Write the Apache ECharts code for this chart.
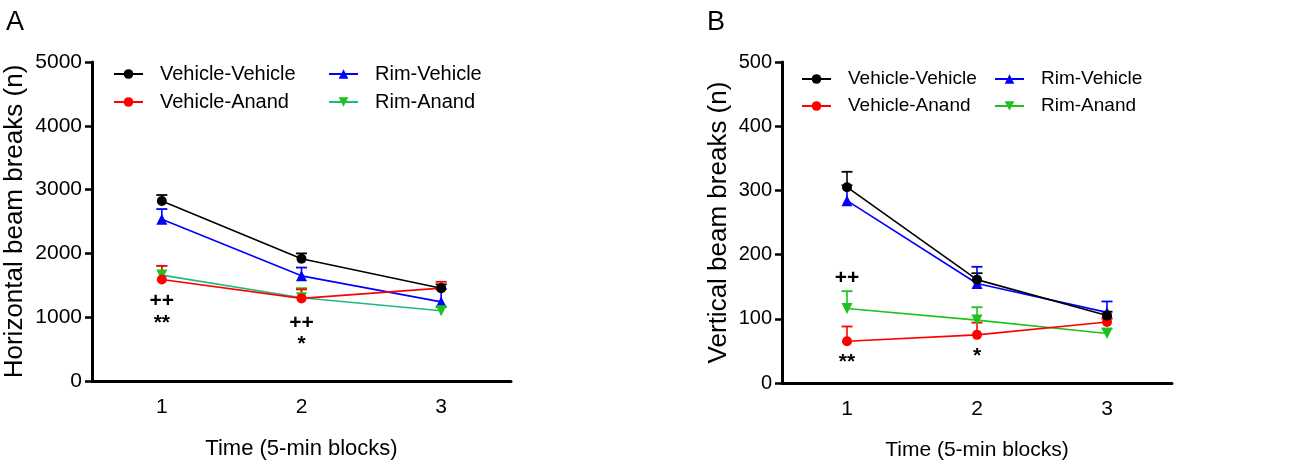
<!DOCTYPE html>
<html>
<head>
<meta charset="utf-8" />
<title>Beam breaks</title>
<script src="https://cdn.jsdelivr.net/npm/echarts@6/dist/echarts.min.js"></script>
<style>
  * { margin: 0; padding: 0; }
  body { background: #fff; width: 1295px; height: 465px; position: relative; overflow: hidden; }
  #chartA { position: absolute; left: 0; top: 0; width: 648px; height: 465px; }
  #chartB { position: absolute; left: 648px; top: 0; width: 647px; height: 465px; }
</style>
</head>
<body>
<div id="chartA"></div>
<div id="chartB"></div>
<script>
// time blocks
var blocks = ['1', '2', '3'];
var seriesNames = ['Vehicle-Vehicle', 'Vehicle-Anand', 'Rim-Vehicle', 'Rim-Anand'];

// panel A - horizontal beam breaks (mean, SEM)
var hVehVeh = [2820, 1915, 1455];
var hVehVehErr = [95, 85, 60];
var hVehAnand = [1590, 1295, 1455];
var hVehAnandErr = [215, 140, 100];
var hRimVeh = [2535, 1648, 1240];
var hRimVehErr = [160, 130, 200];
var hRimAnand = [1660, 1305, 1100];
var hRimAnandErr = [145, 150, 60];
var hTicks = [0, 1000, 2000, 3000, 4000, 5000];

// panel B - vertical beam breaks (mean, SEM)
var vVehVeh = [305, 161, 105];
var vVehVehErr = [24, 10, 6];
var vVehAnand = [65, 75, 95];
var vVehAnandErr = [23, 19, 5];
var vRimVeh = [284, 155, 110];
var vRimVehErr = [24, 26, 17];
var vRimAnand = [116, 98, 77];
var vRimAnandErr = [27, 20, 8];
var vTicks = [0, 100, 200, 300, 400, 500];

// significance marks: [block index, value, text]
var hMarks = [[0, 1254, '++'], [0, 905, '**'], [1, 905, '++'], [1, 580, '*']];
var vMarks = [[0, 164, '++'], [0, 32, '**'], [1, 41, '*']];

var FONT = '"Liberation Sans", Arial, sans-serif';

function lineSeries(name, vals, color, symbol, rotate, lineColor) {
	return {
		name: name,
		type: 'line',
		data: vals,
		symbol: symbol,
		symbolSize: symbol == 'circle' ? 10 : 11,
		symbolRotate: rotate,
		lineStyle: { color: lineColor || color, width: 1.6 },
		itemStyle: { color: color },
		z: 3
	};
}

function errSeries(vals, errs, color) {
	return {
		type: 'custom',
		data: vals.map(function(v, i) { return [i, v, v + errs[i]]; }),
		renderItem: function(params, api) {
			var p0 = api.coord([api.value(0), api.value(1)]);
			var p1 = api.coord([api.value(0), api.value(2)]);
			var hw = 5.5;
			return {
				type: 'group',
				children: [
					{ type: 'line', shape: { x1: p0[0], y1: p0[1], x2: p1[0], y2: p1[1] }, style: { stroke: color, lineWidth: 1.6 } },
					{ type: 'line', shape: { x1: p1[0] - hw, y1: p1[1], x2: p1[0] + hw, y2: p1[1] }, style: { stroke: color, lineWidth: 1.8 } }
				]
			};
		},
		z: 2,
		silent: true
	};
}

// significance text drawn at data coordinates
function markSeries(marks) {
	return {
		type: 'custom',
		silent: true,
		data: marks.map(function(m) { return [m[0], m[1]]; }),
		renderItem: function(params, api) {
			var p = api.coord([api.value(0), api.value(1)]);
			return {
				type: 'text',
				x: p[0],
				y: p[1],
				style: {
					text: marks[params.dataIndex][2],
					fill: '#000',
					font: 'bold 21px ' + FONT,
					align: 'center',
					verticalAlign: 'middle'
				}
			};
		},
		z: 5
	};
}

function legendCol(names, left, top, fontSize, gap) {
	return {
		data: names,
		orient: 'vertical',
		left: left,
		top: top,
		padding: 0,
		itemWidth: 29,
		itemHeight: 12,
		itemGap: gap,
		selectedMode: false,
		textStyle: { fontSize: fontSize, fontFamily: FONT, color: '#000', lineHeight: 24, padding: [0, 0, 0, 12] }
	};
}

function buildOption(cfg) {
	return {
		animation: false,
		textStyle: { fontFamily: FONT },
		graphic: [{
			type: 'text', left: cfg.letterLeft, top: 9,
			style: { text: cfg.letter, fontSize: 27, fontFamily: FONT, fill: '#000' }
		}],
		legend: [
			legendCol([seriesNames[0], seriesNames[1]], cfg.leg1, cfg.legTop, cfg.legFont, cfg.legGap),
			legendCol([seriesNames[2], seriesNames[3]], cfg.leg2, cfg.legTop, cfg.legFont, cfg.legGap)
		],
		grid: {
			left: cfg.gridLeft, top: 62, width: cfg.gridWidth, height: cfg.gridHeight,
			containLabel: false, outerBoundsMode: 'none'
		},
		xAxis: {
			type: 'category',
			data: blocks,
			boundaryGap: true,
			name: 'Time (5-min blocks)',
			nameLocation: 'middle',
			nameGap: 57,
			nameMoveOverlap: false,
			nameTextStyle: { fontSize: cfg.xNameFont, color: '#000', fontFamily: FONT },
			axisLine: { lineStyle: { color: '#000', width: 3 } },
			axisTick: { alignWithLabel: true, length: 7, lineStyle: { color: '#000', width: 2.5 } },
			axisLabel: { fontSize: 21, color: '#000', margin: 16, fontFamily: FONT },
			splitLine: { show: false }
		},
		yAxis: {
			type: 'value',
			min: cfg.ticks[0],
			max: cfg.ticks[cfg.ticks.length - 1],
			interval: cfg.ticks[1] - cfg.ticks[0],
			name: cfg.yName,
			nameLocation: 'middle',
			nameGap: cfg.yNameGap,
			nameMoveOverlap: false,
			nameTextStyle: { fontSize: 26, color: '#000', fontFamily: FONT },
			axisLine: { show: true, lineStyle: { color: '#000', width: 3 } },
			axisTick: { show: true, length: 7, lineStyle: { color: '#000', width: 2.5 } },
			axisLabel: {
				fontSize: cfg.yLabFont, color: '#000', margin: 10, fontFamily: FONT,
				formatter: function(v) { return String(v); }
			},
			splitLine: { show: false }
		},
		series: [
			errSeries(cfg.d.vv, cfg.d.vvE, '#000000'),
			errSeries(cfg.d.rv, cfg.d.rvE, '#0000ff'),
			errSeries(cfg.d.ra, cfg.d.raE, cfg.green),
			errSeries(cfg.d.va, cfg.d.vaE, '#ff0000'),
			lineSeries(seriesNames[2], cfg.d.rv, '#0000ff', 'triangle', 0),
			lineSeries(seriesNames[3], cfg.d.ra, cfg.green, 'triangle', 180, cfg.greenLine),
			lineSeries(seriesNames[1], cfg.d.va, '#ff0000', 'circle', 0),
			lineSeries(seriesNames[0], cfg.d.vv, '#000000', 'circle', 0),
			markSeries(cfg.marks)
		]
	};
}

var chartA = echarts.init(document.getElementById('chartA'));
chartA.setOption(buildOption({
	letter: 'A', letterLeft: 6,
	gridLeft: 92, gridWidth: 419, gridHeight: 319,
	leg1: 113, leg2: 328, legTop: 62, legGap: 4, legFont: 20,
	xNameFont: 22, yLabFont: 21,
	yName: 'Horizontal beam breaks (n)', yNameGap: 64,
	ticks: hTicks,
	green: '#1ec21e', greenLine: '#1dbb7c',
	marks: hMarks,
	d: {
		vv: hVehVeh, vvE: hVehVehErr, va: hVehAnand, vaE: hVehAnandErr,
		rv: hRimVeh, rvE: hRimVehErr, ra: hRimAnand, raE: hRimAnandErr
	}
}));

var chartB = echarts.init(document.getElementById('chartB'));
chartB.setOption(buildOption({
	letter: 'B', letterLeft: 59,
	gridLeft: 134, gridWidth: 390, gridHeight: 321,
	leg1: 153, leg2: 346, legTop: 67, legGap: 3, legFont: 19,
	xNameFont: 21, yLabFont: 20,
	yName: 'Vertical beam breaks (n)', yNameGap: 50,
	ticks: vTicks,
	green: '#1ec21e', greenLine: '#1ec21e',
	marks: vMarks,
	d: {
		vv: vVehVeh, vvE: vVehVehErr, va: vVehAnand, vaE: vVehAnandErr,
		rv: vRimVeh, rvE: vRimVehErr, ra: vRimAnand, raE: vRimAnandErr
	}
}));
</script>
</body>
</html>
